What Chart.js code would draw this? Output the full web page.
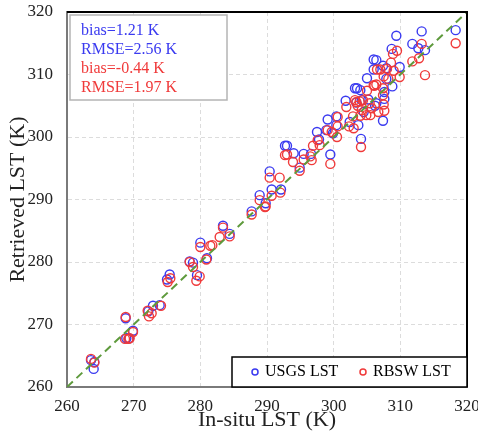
<!DOCTYPE html>
<html>
<head>
<meta charset="utf-8">
<script src="https://cdn.jsdelivr.net/npm/chart.js@4.4.1/dist/chart.umd.min.js"></script>
<style>
  html, body { margin: 0; padding: 0; background: #fff; }
  #wrap { width: 478px; height: 440px; }
</style>
</head>
<body>
<div id="wrap"><canvas id="chart" width="478" height="440"></canvas></div>
<script>
// In-situ LST (x) vs retrieved LST (y)
const USGS_X = [263.6, 264.0, 264.1, 268.8, 268.9, 269.3, 269.9, 272.2, 272.9, 273.9, 275.0, 275.4, 278.4, 278.9, 279.5, 280.0,
  281.0, 283.4, 284.4, 287.7, 288.9, 289.8, 290.4, 290.7, 292.1, 292.7, 293.0, 294.0, 294.9, 295.5, 296.6, 297.5, 297.8,
  298.9, 299.1, 299.5, 299.9, 300.4, 300.4, 301.8, 302.4, 303.2, 303.5, 303.4, 303.7, 304.0, 304.1, 304.2, 304.5, 305.0,
  305.2, 306.0, 306.0, 306.4, 306.2, 306.4, 307.4, 307.9, 307.9, 307.6, 307.6, 307.4, 308.8, 308.7, 309.4, 309.9, 311.8,
  312.7, 313.2, 313.7, 318.3];
const USGS_Y = [264.3, 262.9, 264.0, 271.0, 267.8, 267.8, 269.0, 272.1, 273.0, 273.1, 277.2, 278.0, 280.1, 279.9, 277.9, 283.1,
  280.6, 285.8, 284.5, 288.1, 290.7, 289.4, 294.5, 291.6, 291.6, 298.6, 298.6, 297.4, 295.1, 297.3, 297.3, 300.8, 299.6,
  301.1, 302.8, 297.2, 300.6, 303.3, 301.9, 305.8, 302.4, 307.8, 307.8, 305.5, 301.9, 307.5, 299.7, 305.9, 304.0, 309.4,
  306.0, 310.8, 312.4, 312.3, 305.0, 305.4, 311.4, 311.0, 309.3, 307.2, 306.1, 302.6, 308.1, 314.1, 316.2, 311.2, 314.9,
  314.2, 316.9, 313.9, 317.1];

const RBSW_X = [263.6, 264.1, 268.8, 268.7, 269.2, 269.4, 269.9, 272.1, 272.3, 272.7, 274.1, 275.1, 275.5, 278.4, 278.9, 279.4,
  279.9, 280.0, 280.9, 281.5, 281.8, 282.9, 283.4, 284.4, 287.7, 288.9, 289.7, 289.8, 290.4, 290.7, 291.9, 292.0, 292.7,
  293.0, 293.9, 294.9, 295.5, 296.5, 296.7, 296.9, 297.9, 297.6, 299.1, 299.5, 299.7, 300.5, 300.6, 300.6, 301.9, 302.3,
  302.9, 303.0, 303.2, 303.4, 303.6, 303.9, 304.0, 304.2, 304.1, 304.4, 305.0, 305.4, 305.5, 305.7, 304.9, 306.0, 306.1,
  306.5, 307.0, 306.4, 307.5, 307.4, 307.4, 307.5, 307.6, 306.7, 308.0, 308.2, 308.6, 308.9, 309.5, 309.0, 309.9, 311.8,
  312.8, 313.2, 313.7, 318.3];
const RBSW_Y = [264.5, 263.9, 271.2, 267.7, 267.7, 267.8, 268.8, 272.2, 271.3, 271.8, 273.0, 276.8, 277.4, 280.0, 279.2, 277.0,
  277.7, 282.4, 280.4, 282.6, 282.7, 284.0, 285.5, 284.1, 287.6, 289.9, 288.8, 288.9, 293.5, 290.6, 293.5, 291.1, 297.1,
  297.2, 296.0, 294.6, 296.4, 296.9, 296.3, 298.6, 298.7, 299.5, 301.1, 295.7, 300.8, 300.0, 303.2, 301.7, 304.8, 301.7,
  303.3, 301.4, 305.9, 305.6, 305.0, 305.7, 303.4, 304.3, 298.4, 305.9, 307.4, 305.4, 303.5, 304.6, 303.5, 308.3, 308.2,
  310.8, 310.8, 308.4, 309.7, 307.8, 306.7, 305.2, 304.2, 304.0, 310.9, 309.3, 311.9, 313.3, 313.8, 310.6, 309.6, 312.1,
  312.6, 314.9, 309.9, 315.0];

const ONE_TO_ONE = [260, 320];
const SERIES_NAMES = ['USGS LST', 'RBSW LST'];
const STATS_LINES = ['bias=1.21 K', 'RMSE=2.56 K', 'bias=-0.44 K', 'RMSE=1.97 K'];

const BLUE = '#3a3af0';
const RED = '#f03a3a';
const SERIF = "'Liberation Serif', 'Times New Roman', serif";

const toPoints = (xs, ys) => xs.map((x, i) => ({ x: x, y: ys[i] }));

// stats box + legend box + black frame on top/right
const boxes = {
  id: 'boxes',
  afterDraw(chart) {
    const ctx = chart.ctx;
    const a = chart.chartArea;
    ctx.save();

    ctx.strokeStyle = '#000';
    ctx.lineWidth = 2;
    ctx.beginPath();
    ctx.moveTo(a.left, a.top);
    ctx.lineTo(a.right, a.top);
    ctx.lineTo(a.right, a.bottom);
    ctx.stroke();

    // stats
    ctx.fillStyle = '#fff';
    ctx.fillRect(a.left + 3, a.top + 3, 157, 85);
    ctx.strokeStyle = '#b4b4b4';
    ctx.lineWidth = 1.5;
    ctx.strokeRect(a.left + 3, a.top + 3, 157, 85);
    ctx.font = '16px ' + SERIF;
    ctx.textBaseline = 'middle';
    ctx.textAlign = 'left';
    STATS_LINES.forEach((t, i) => {
      ctx.fillStyle = i < 2 ? BLUE : RED;
      ctx.fillText(t, a.left + 14, a.top + 19 + i * 19);
    });

    // legend
    const lx = a.right - 235, ly = a.bottom - 30;
    ctx.fillStyle = '#fff';
    ctx.fillRect(lx, ly, 235, 30);
    ctx.strokeStyle = '#000';
    ctx.lineWidth = 1.5;
    ctx.strokeRect(lx, ly, 235, 30);
    [BLUE, RED].forEach((c, i) => {
      const mx = lx + 23 + i * 108;
      ctx.strokeStyle = c;
      ctx.lineWidth = 1.5;
      ctx.beginPath();
      ctx.arc(mx, ly + 15, 3, 0, Math.PI * 2);
      ctx.stroke();
      ctx.fillStyle = '#000';
      ctx.fillText(SERIES_NAMES[i], mx + 10, ly + 15);
    });
    ctx.restore();
  }
};

new Chart(document.getElementById('chart'), {
  type: 'scatter',
  data: {
    datasets: [
      {
        type: 'line',
        label: '1:1',
        data: toPoints(ONE_TO_ONE, ONE_TO_ONE),
        borderColor: '#5e9a3c',
        borderWidth: 2,
        borderDash: [8, 5],
        pointRadius: 0,
        fill: false
      },
      {
        label: SERIES_NAMES[1],
        data: toPoints(RBSW_X, RBSW_Y),
        borderColor: RED,
        backgroundColor: 'rgba(0,0,0,0)',
        pointRadius: 4.5,
        pointBorderWidth: 1.4
      },
      {
        label: SERIES_NAMES[0],
        data: toPoints(USGS_X, USGS_Y),
        borderColor: BLUE,
        backgroundColor: 'rgba(0,0,0,0)',
        pointRadius: 4.5,
        pointBorderWidth: 1.4
      }
    ]
  },
  options: {
    responsive: false,
    animation: false,
    layout: { padding: { left: 0, right: 11, top: 12, bottom: 0 } },
    plugins: {
      legend: { display: false },
      tooltip: { enabled: false }
    },
    scales: {
      x: {
        type: 'linear',
        min: 260,
        max: 320,
        afterFit: s => { s.height = 53; s.paddingLeft = 0; s.paddingRight = 0; },
        ticks: { stepSize: 10, padding: 9, color: '#222', font: { family: SERIF, size: 17 } },
        grid: { color: '#dcdcdc', drawTicks: false },
        border: { color: '#7a7a7a', width: 2, dash: [4, 3] },
        title: {
          display: true,
          text: 'In-situ LST (K)',
          color: '#222',
          font: { family: SERIF, size: 22 },
          padding: { top: 0, bottom: 7 }
        }
      },
      y: {
        type: 'linear',
        min: 260,
        max: 320,
        afterFit: s => { s.width = 67; s.paddingTop = 0; s.paddingBottom = 0; },
        ticks: { stepSize: 10, padding: 14, color: '#222', font: { family: SERIF, size: 17 } },
        grid: { color: '#dcdcdc', drawTicks: false },
        border: { color: '#7a7a7a', width: 2, dash: [4, 3] },
        title: {
          display: true,
          text: 'Retrieved LST (K)',
          color: '#222',
          font: { family: SERIF, size: 22 },
          padding: { top: 5, bottom: 0 }
        }
      }
    }
  },
  plugins: [boxes]
});
</script>
</body>
</html>
